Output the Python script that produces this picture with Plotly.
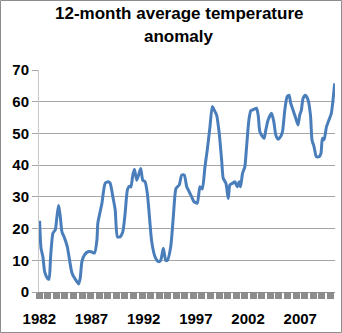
import plotly.graph_objects as go

# decimal year of each sample and its 12-month average anomaly
years = [1982.03, 1982.16, 1982.35, 1982.51, 1982.76, 1982.93, 1983.08, 1983.31, 1983.53, 1983.69,
         1983.85, 1984.01, 1984.17, 1984.42, 1984.68, 1984.90, 1985.13, 1985.37, 1985.60, 1985.76,
         1985.92, 1986.08, 1986.33, 1986.66, 1986.97, 1987.29, 1987.52, 1987.61, 1988.00, 1988.31,
         1988.63, 1988.79, 1989.05, 1989.27, 1989.49, 1989.74, 1990.00, 1990.22, 1990.44, 1990.63,
         1990.77, 1990.96, 1991.11, 1991.34, 1991.56, 1991.72, 1991.91, 1992.13, 1992.35, 1992.55,
         1992.77, 1993.09, 1993.41, 1993.63, 1993.88, 1994.11, 1994.27, 1994.59, 1994.84, 1995.10,
         1995.41, 1995.64, 1995.89, 1996.12, 1996.27, 1996.60, 1996.82, 1997.13, 1997.39, 1997.61,
         1997.87, 1998.09, 1998.35, 1998.57, 1998.76, 1998.99, 1999.24, 1999.47, 1999.62, 1999.88,
         2000.10, 2000.26, 2000.52, 2000.74, 2000.96, 2001.15, 2001.28, 2001.47, 2001.69, 2001.86,
         2002.08, 2002.27, 2002.55, 2002.81, 2002.97, 2003.13, 2003.39, 2003.54, 2003.70, 2003.92,
         2004.25, 2004.47, 2004.66, 2004.88, 2005.11, 2005.30, 2005.52, 2005.74, 2005.93, 2006.09,
         2006.31, 2006.57, 2006.79, 2006.95, 2007.11, 2007.27, 2007.50, 2007.75, 2007.98, 2008.13,
         2008.32, 2008.55, 2008.80, 2008.99, 2009.12, 2009.28, 2009.51, 2009.75, 2009.98, 2010.14,
         2010.30]
anomaly = [22.5, 13.9, 11.0, 6.4, 4.4, 4.0, 11.0, 18.6, 19.6, 23.8,
           27.4, 23.8, 19.0, 17.0, 14.3, 10.0, 6.0, 4.4, 3.3, 2.5,
           4.4, 9.6, 11.7, 12.7, 12.7, 12.3, 16.4, 21.8, 28.0, 34.3,
           34.8, 34.3, 30.0, 25.9, 17.4, 17.4, 19.0, 24.8, 32.2, 33.4,
           33.1, 36.9, 38.7, 35.3, 37.4, 39.0, 35.3, 34.8, 31.1, 23.8,
           15.9, 11.1, 9.6, 10.0, 13.8, 10.0, 10.0, 14.3, 23.8, 32.7,
           33.8, 36.9, 36.9, 33.2, 32.2, 30.0, 28.5, 28.0, 33.2, 32.5,
           39.5, 44.8, 52.1, 58.5, 57.4, 55.8, 50.0, 41.6, 35.9, 34.3,
           29.5, 33.8, 34.3, 34.8, 33.2, 34.8, 33.2, 37.4, 39.5, 45.9,
           54.3, 57.2, 57.6, 58.0, 55.8, 50.6, 49.0, 48.5, 51.1, 54.3,
           56.4, 53.7, 49.5, 48.2, 49.0, 50.6, 57.4, 61.6, 62.1, 59.5,
           57.4, 54.8, 52.7, 55.8, 57.4, 61.1, 62.1, 60.6, 55.8, 47.9,
           45.9, 42.7, 42.7, 43.8, 48.5, 48.0, 52.1, 54.3, 56.4, 60.6,
           65.8]

x_tick_vals = [1982, 1987, 1992, 1997, 2002, 2007]
x_tick_text = ["1982", "1987", "1992", "1997", "2002", "2007"]
y_tick_vals = [0, 10, 20, 30, 40, 50, 60, 70]
title_lines = ["12-month average temperature", "anomaly"]

W, H = 342, 333
L, R, T, B = 39, 7, 70, 41
pw, ph = W - L - R, H - T - B

fig = go.Figure()
fig.add_trace(go.Scatter(x=years, y=anomaly, mode="lines",
                         line=dict(color="#4a7ebb", width=3, shape="spline", smoothing=0.6),
                         hoverinfo="skip"))

tick_font = dict(family="Liberation Sans, Arial, sans-serif", size=15, color="#000000")
title_font = dict(family="Liberation Sans, Arial, sans-serif", size=17, color="#000000")

def py(ypx):
    return (T + ph - ypx) / ph

def px(xpx):
    return (xpx - L) / pw

annotations = [
    dict(text="<b>%s</b>" % title_lines[0], xref="paper", yref="paper",
         x=px(179), y=py(14), xanchor="center", yanchor="middle",
         showarrow=False, font=title_font),
    dict(text="<b>%s</b>" % title_lines[1], xref="paper", yref="paper",
         x=px(179), y=py(37), xanchor="center", yanchor="middle",
         showarrow=False, font=title_font),
]

fig.update_layout(
    width=W, height=H,
    margin=dict(l=L, r=R, t=T, b=B, pad=0, autoexpand=False),
    paper_bgcolor="white", plot_bgcolor="white",
    showlegend=False,
    annotations=annotations,
    xaxis=dict(range=[1981.97, 2010.33], showgrid=False, zeroline=False, automargin=False,
               tickvals=x_tick_vals, ticktext=["<b>%s</b>" % t for t in x_tick_text],
               ticks="outside", ticklen=13, tickwidth=1, tickcolor="rgba(0,0,0,0)",
               tickfont=tick_font,
               showline=True, linecolor="#8c8c8c", linewidth=1,
               minor=dict(ticks="outside", ticklen=6, tickwidth=7, tickcolor="#8c8c8c",
                          tick0=1982.0, dtick=0.82, showgrid=False)),
    yaxis=dict(range=[0, 70.05], tickvals=y_tick_vals, automargin=False,
               ticktext=["<b>%d</b>" % v for v in y_tick_vals],
               showgrid=True, gridcolor="#a6a6a6", gridwidth=1, zeroline=False,
               ticks="outside", ticklen=6, tickcolor="#a6a6a6", tickwidth=1,
               tickfont=tick_font,
               showline=True, linecolor="#c8c8c8", linewidth=1),
    shapes=[dict(type="rect", xref="paper", yref="paper",
                 x0=px(0.5), x1=px(W - 0.5),
                 y0=py(H - 0.5), y1=py(0.5),
                 line=dict(color="#8c8c8c", width=1), fillcolor="rgba(0,0,0,0)", layer="above")],
)

fig.write_html("out.html")
